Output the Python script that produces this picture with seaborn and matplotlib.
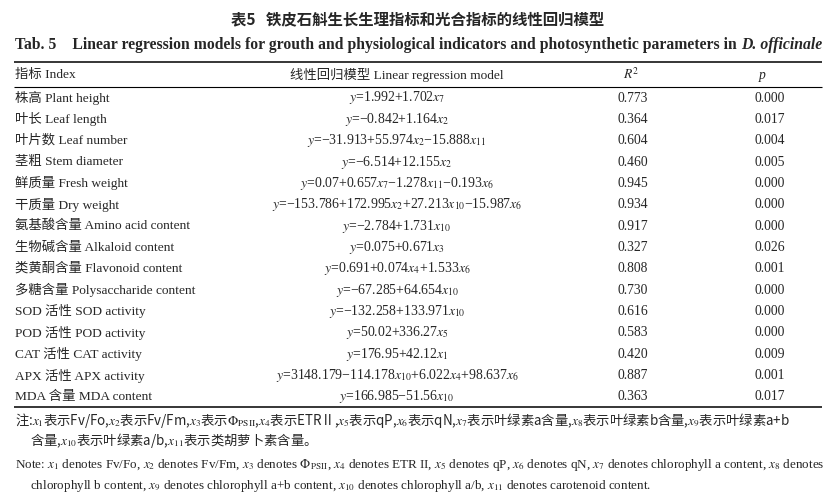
import re
import matplotlib
matplotlib.use('Agg')
import matplotlib.pyplot as plt
import seaborn as sns

# ---- table content ----
title_cn = '表5   铁皮石斛生长生理指标和光合指标的线性回归模型'
title_en = 'Tab. 5    Linear regression models for grouth and physiological indicators and photosynthetic parameters in '
title_en_it = 'D. officinale'

header = ['指标 Index', '线性回归模型 Linear regression model', '$R^2$', 'p']

index_cn = ['株高', '叶长', '叶片数', '茎粗', '鲜质量', '干质量', '氨基酸含量', '生物碱含量',
            '类黄酮含量', '多糖含量', 'SOD 活性', 'POD 活性', 'CAT 活性', 'APX 活性', 'MDA 含量']
index_en = ['Plant height', 'Leaf length', 'Leaf number', 'Stem diameter', 'Fresh weight',
            'Dry weight', 'Amino acid content', 'Alkaloid content', 'Flavonoid content',
            'Polysaccharide content', 'SOD activity', 'POD activity', 'CAT activity',
            'APX activity', 'MDA content']
models = ['y=1.992+1.702x7',
          'y=-0.842+1.164x2',
          'y=-31.913+55.974x2-15.888x11',
          'y=-6.514+12.155x2',
          'y=0.07+0.657x7-1.278x11-0.193x6',
          'y=-153.786+172.995x2+27.213x10-15.987x6',
          'y=-2.784+1.731x10',
          'y=0.075+0.671x3',
          'y=0.691+0.074x4+1.533x6',
          'y=-67.285+64.654x10',
          'y=-132.258+133.971x10',
          'y=50.02+336.27x5',
          'y=176.95+42.12x1',
          'y=3148.179-114.178x10+6.022x4+98.637x6',
          'y=166.985-51.56x10']
r2 = [0.773, 0.364, 0.604, 0.460, 0.945, 0.934, 0.917, 0.327, 0.808, 0.730, 0.616, 0.583, 0.420, 0.887, 0.363]
p_val = [0.000, 0.017, 0.004, 0.005, 0.000, 0.000, 0.000, 0.026, 0.001, 0.000, 0.000, 0.000, 0.009, 0.001, 0.017]

note_cn = ['注:$x_1$表示Fv/Fo,$x_2$表示Fv/Fm,$x_3$表示$\\Phi_{\\mathrm{PSII}}$,$x_4$表示ETRⅡ,$x_5$表示qP,'
           '$x_6$表示qN,$x_7$表示叶绿素a含量,$x_8$表示叶绿素b含量,$x_9$表示叶绿素a+b',
           '含量,$x_{10}$表示叶绿素a/b,$x_{11}$表示类胡萝卜素含量。']
note_en = ['Note: $x_1$ denotes Fv/Fo, $x_2$ denotes Fv/Fm, $x_3$ denotes $\\Phi_{\\mathrm{PSII}}$, $x_4$ denotes ETR II, '
           '$x_5$ denotes qP, $x_6$ denotes qN, $x_7$ denotes chlorophyll a content, $x_8$ denotes',
           'chlorophyll b content, $x_9$ denotes chlorophyll a+b content, $x_{10}$ denotes chlorophyll a/b, '
           '$x_{11}$ denotes carotenoid content.']


def to_math(s):
    s = s.replace('-', '\u2212')
    s = re.sub(r'x(\d+)', r'$x_{\1}$', s)
    return s.replace('y=', '$y$=', 1)


sns.set_theme(style='white')
plt.rcParams['font.family'] = ['Liberation Serif', 'Noto Sans CJK SC']
plt.rcParams['mathtext.fontset'] = 'stix'

W, H = 838, 504
fig = plt.figure(figsize=(W / 100, H / 100), dpi=100)
ax = fig.add_axes([0, 0, 1, 1])
ax.set_xlim(0, W)
ax.set_ylim(H, 0)
ax.axis('off')

serif = ['Liberation Serif', 'Noto Sans CJK SC']
cjk = ['Noto Sans CJK SC', 'Liberation Serif']

# titles
ax.text(418, 19, title_cn, ha='center', va='center', fontsize=11.1, fontweight='bold', family=cjk)
t1 = ax.text(15, 45, title_en, ha='left', va='center', fontsize=11.3, fontweight='bold', family=serif)
fig.canvas.draw()
bb = t1.get_window_extent()
ax.text(15 + bb.width, 45, title_en_it, ha='left', va='center', fontsize=11.3,
        fontweight='bold', style='italic', family=serif)

# rules
left, right = 14, 822
ax.hlines([62, 87, 407], left, right, colors='black', linewidth=[1.1, 0.8, 1.1])

col_x = [15, 397, 633, 770]
fs = 9.8
fs0 = 9.6
ax.text(col_x[0], 75, header[0], ha='left', va='center', fontsize=fs0, family=serif)
ax.text(col_x[1], 75, header[1], ha='center', va='center', fontsize=fs0, family=serif)
ax.text(col_x[2] - 2, 74, header[2], ha='center', va='center', fontsize=fs)
ax.text(col_x[3] - 8, 75, header[3], ha='center', va='center', fontsize=fs, style='italic', family=serif)

y0, dy = 98, 21.35
for i in range(len(index_cn)):
    y = y0 + i * dy
    ax.text(col_x[0], y, index_cn[i] + ' ' + index_en[i], ha='left', va='center', fontsize=fs0, family=serif)
    ax.text(col_x[1], y, to_math(models[i]), ha='center', va='center', fontsize=9.9, family=serif)
    ax.text(col_x[2], y, f'{r2[i]:.3f}', ha='center', va='center', fontsize=fs, family=serif)
    ax.text(col_x[3], y, f'{p_val[i]:.3f}', ha='center', va='center', fontsize=fs, family=serif)

# notes
ax.text(15, 420, note_cn[0], ha='left', va='center', fontsize=9.6, family=cjk)
ax.text(30, 441, note_cn[1], ha='left', va='center', fontsize=9.6, family=cjk)
ax.text(15, 465, note_en[0], ha='left', va='center', fontsize=9.45, family=serif)
ax.text(30, 486, note_en[1], ha='left', va='center', fontsize=9.45, family=serif)

fig.savefig('out.png', dpi=100, facecolor='white')
